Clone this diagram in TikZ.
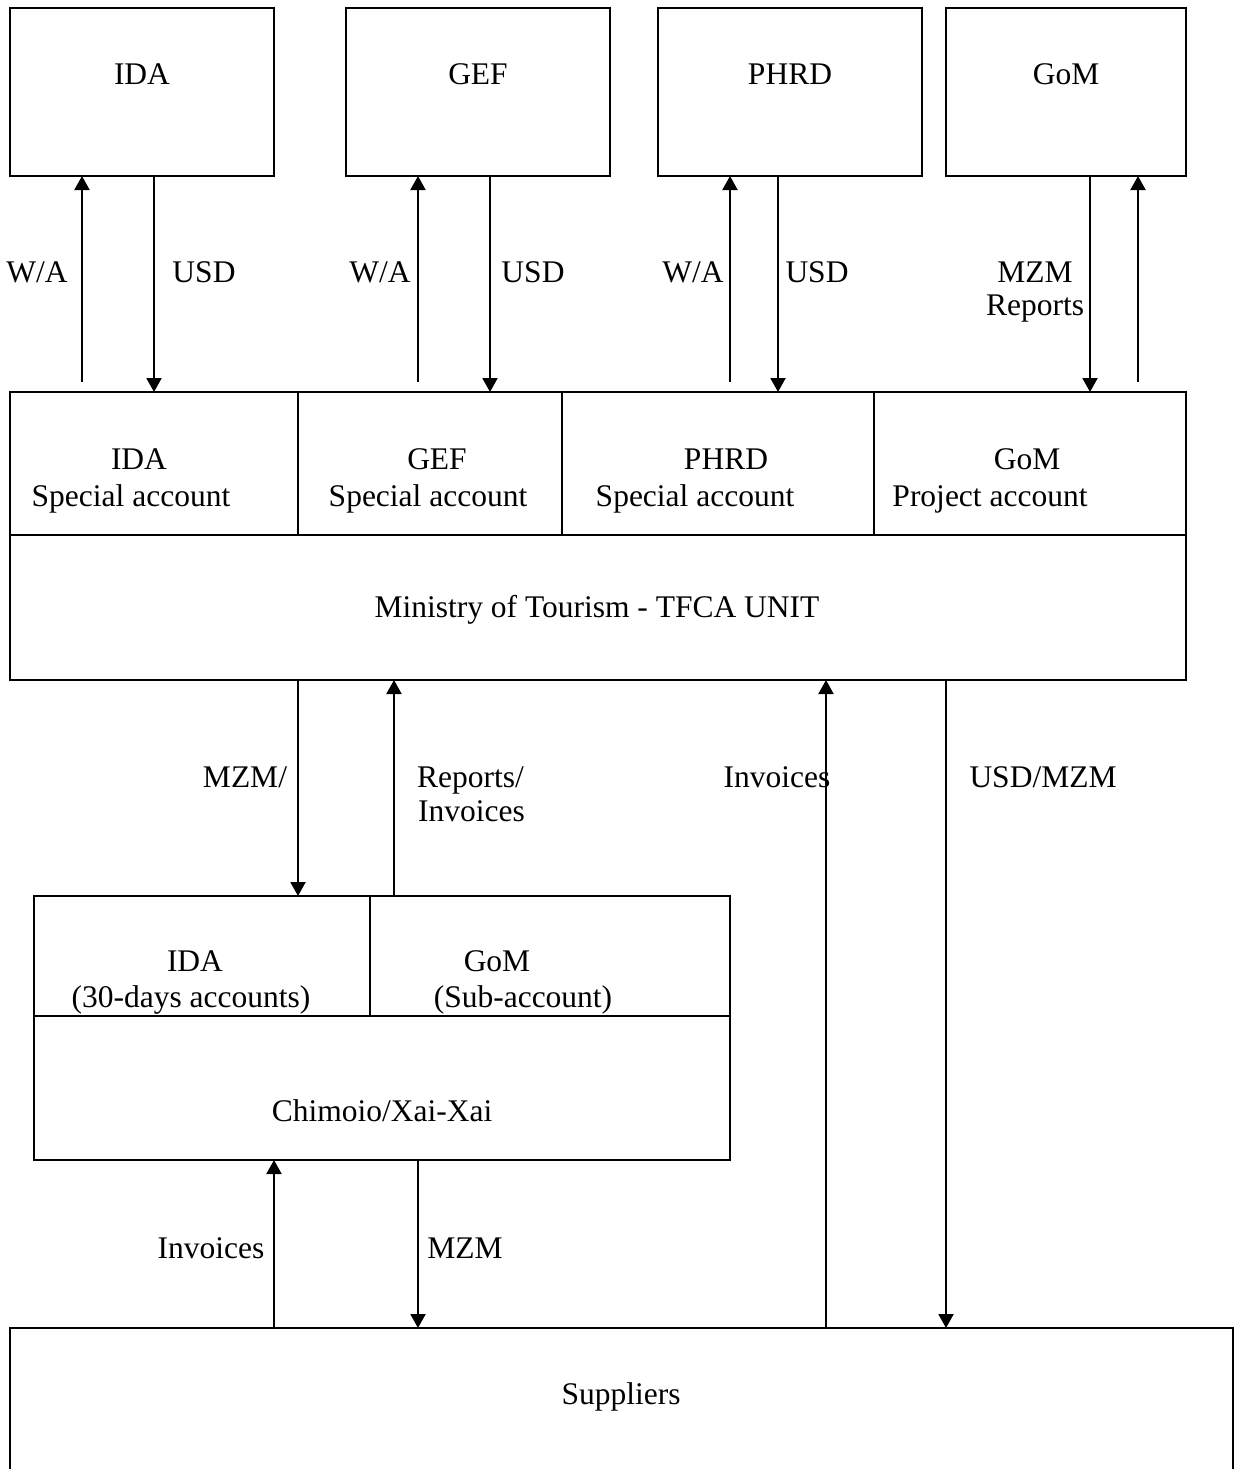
\documentclass[tikz,border=0pt]{standalone}
\usepackage{fontspec}
\setmainfont{Liberation Serif}
\usetikzlibrary{arrows.meta}
\begin{document}
\begin{tikzpicture}[x=1pt,y=-1pt,
  box/.style 2 args={draw, line width=2pt, inner sep=0pt, outer sep=0pt, anchor=north west,
                     minimum width=#1pt, minimum height=#2pt},
  txt/.style={inner sep=0pt, anchor=base, font=\fontsize{31.5}{37}\selectfont},
  txtl/.style={txt, anchor=base west},
  arr/.style={line width=2pt, -{Triangle[width=15pt,length=14pt]}}]
\useasboundingbox (0,0) rectangle (1236,1469);
\fill[white] (0,0) rectangle (1236,1469);
\clip (0,0) rectangle (1236,1469);

% boxes
\node[box={264}{168}] (ida) at (10,8) {};
\node[box={264}{168}] (gef) at (346,8) {};
\node[box={264}{168}] (phrd) at (658,8) {};
\node[box={240}{168}] (gom) at (946,8) {};
\node[box={288}{143}] (idaacc) at (10,392) {};
\node[box={264}{143}] (gefacc) at (298,392) {};
\node[box={312}{143}] (phrdacc) at (562,392) {};
\node[box={312}{143}] (gomacc) at (874,392) {};
\node[box={1176}{145}] (ministry) at (10,535) {};
\node[box={336}{120}] (cida) at (34,896) {};
\node[box={360}{120}] (cgom) at (370,896) {};
\node[box={696}{144}] (chimoio) at (34,1016) {};
\node[box={1223}{220}] (suppliers) at (10,1328) {};

% box texts
\node[txt] (tida) at (142,85) {IDA};
\node[txt] (tgef) at (478,85) {GEF};
\node[txt] (tphrd) at (790,85) {PHRD};
\node[txt] (tgom) at (1066,85) {GoM};
\node[txt] (aida1) at (139,469) {IDA};
\node[txt] (aida2) at (131,506) {Special account};
\node[txt] (agef1) at (437,469) {GEF};
\node[txt] (agef2) at (428,506) {Special account};
\node[txt] (aphrd1) at (726,469) {PHRD};
\node[txt] (aphrd2) at (695,506) {Special account};
\node[txt] (agom1) at (1027,469) {GoM};
\node[txt] (agom2) at (990,506) {Project account};
\node[txt] (tmin) at (597,617) {Ministry of Tourism - TFCA UNIT};
\node[txt] (cida1) at (195,971) {IDA};
\node[txt] (cida2) at (191,1007) {(30-days accounts)};
\node[txt] (cgom1) at (497,971) {GoM};
\node[txt] (cgom2) at (523,1007) {(Sub-account)};
\node[txt] (tchim) at (382,1121) {Chimoio/Xai-Xai};
\node[txt] (tsup) at (621,1404) {Suppliers};

% connector positions
\coordinate (x1) at (82,382);
\coordinate (x2) at (154,0);
\coordinate (x3) at (418,382);
\coordinate (x4) at (490,0);
\coordinate (x5) at (730,382);
\coordinate (x6) at (778,0);
\coordinate (x7) at (1090,0);
\coordinate (x8) at (1138,382);
\coordinate (x9) at (298,0);
\coordinate (x10) at (394,0);
\coordinate (x11) at (826,0);
\coordinate (x12) at (946,0);
\coordinate (x13) at (274,0);
\coordinate (x14) at (418,0);

% connectors
\draw[arr] (x1) -- (x1 |- ida.south);
\draw[arr] (x2 |- ida.south) -- (x2 |- idaacc.north);
\draw[arr] (x3) -- (x3 |- gef.south);
\draw[arr] (x4 |- gef.south) -- (x4 |- gefacc.north);
\draw[arr] (x5) -- (x5 |- phrd.south);
\draw[arr] (x6 |- phrd.south) -- (x6 |- phrdacc.north);
\draw[arr] (x7 |- gom.south) -- (x7 |- gomacc.north);
\draw[arr] (x8) -- (x8 |- gom.south);
\draw[arr] (x9 |- ministry.south) -- (x9 |- cida.north);
\draw[arr] (x10 |- cgom.north) -- (x10 |- ministry.south);
\draw[arr] (x11 |- suppliers.north) -- (x11 |- ministry.south);
\draw[arr] (x12 |- ministry.south) -- (x12 |- suppliers.north);
\draw[arr] (x13 |- suppliers.north) -- (x13 |- chimoio.south);
\draw[arr] (x14 |- chimoio.south) -- (x14 |- suppliers.north);

% connector labels
\node[txt] (l1) at (37,282) {W/A};
\node[txt] (l2) at (204,282) {USD};
\node[txt] (l3) at (380,282) {W/A};
\node[txt] (l4) at (533,282) {USD};
\node[txt] (l5) at (693,282) {W/A};
\node[txt] (l6) at (817,282) {USD};
\node[txt] (l7) at (1035,282) {MZM};
\node[txt] (l8) at (1035,315) {Reports};
\node[txt] (l9) at (245,787) {MZM/};
\node[txtl] (l10) at (417,787) {Reports/};
\node[txtl] (l11) at (418,821) {Invoices};
\node[txt] (l12) at (777,787) {Invoices};
\node[txt] (l13) at (1043,787) {USD/MZM};
\node[txt] (l14) at (211,1258) {Invoices};
\node[txt] (l15) at (465,1258) {MZM};
\end{tikzpicture}
\end{document}
